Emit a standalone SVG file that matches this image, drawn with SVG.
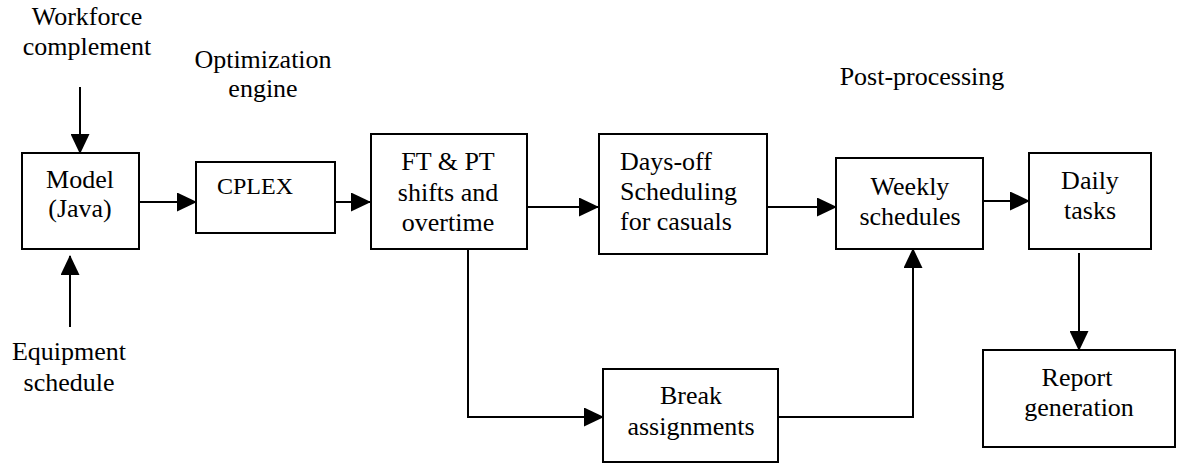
<svg xmlns="http://www.w3.org/2000/svg" width="1177" height="465" viewBox="0 0 1177 465">
  <style>
    .box { fill: #ffffff; stroke: #000000; stroke-width: 2; }
    text { font-family: 'Liberation Serif', 'Times New Roman', Times, serif; font-size: 26px; fill: #000000; text-anchor: middle; }
    .left { text-anchor: start; }
    .small { font-size: 24px; }
    .wire { fill: none; stroke: #000000; stroke-width: 2; }
  </style>
  <defs>
    <marker id="arrow" markerUnits="userSpaceOnUse" markerWidth="20" markerHeight="19" refX="19" refY="9.5" orient="auto">
      <path d="M0,0 L20,9.5 L0,19 Z" fill="#000000"/>
    </marker>
  </defs>
  <rect width="1177" height="465" fill="#ffffff"/>

  <!-- free-standing labels -->
  <g id="labels">
    <text x="87" y="25">Workforce</text>
    <text x="87" y="55">complement</text>
    <text x="263" y="68">Optimization</text>
    <text x="263" y="97">engine</text>
    <text x="922" y="85">Post-processing</text>
    <text x="69" y="360">Equipment</text>
    <text x="69" y="391">schedule</text>
  </g>

  <!-- connectors -->
  <g id="connectors">
    <path class="wire" d="M80,87 V153" marker-end="url(#arrow)"/>
    <path class="wire" d="M70,327 V256" marker-end="url(#arrow)"/>
    <path class="wire" d="M139,202 H196" marker-end="url(#arrow)"/>
    <path class="wire" d="M312,202 H370" marker-end="url(#arrow)"/>
    <path class="wire" d="M527,207 H598" marker-end="url(#arrow)"/>
    <path class="wire" d="M468,249 V417 H603" marker-end="url(#arrow)"/>
    <path class="wire" d="M767,207 H836" marker-end="url(#arrow)"/>
    <path class="wire" d="M778,417 H913 V249" marker-end="url(#arrow)"/>
    <path class="wire" d="M972,201 H1029" marker-end="url(#arrow)"/>
    <path class="wire" d="M1079,253 V350" marker-end="url(#arrow)"/>
  </g>

  <g id="model">
    <rect class="box" x="22" y="153" width="117" height="96"/>
    <text x="80" y="188">Model</text>
    <text x="80" y="217">(Java)</text>
  </g>

  <g id="cplex">
    <rect class="box" x="196" y="162" width="139" height="71"/>
    <text class="small left" x="217" y="194">CPLEX</text>
  </g>

  <g id="shifts">
    <rect class="box" x="371" y="134" width="156" height="115"/>
    <text x="448" y="170">FT &amp; PT</text>
    <text x="448" y="201">shifts and</text>
    <text x="448" y="231">overtime</text>
  </g>

  <g id="daysoff">
    <rect class="box" x="599" y="134" width="168" height="120"/>
    <text class="left" x="620" y="170">Days-off</text>
    <text class="left" x="620" y="200">Scheduling</text>
    <text class="left" x="620" y="230">for casuals</text>
  </g>

  <g id="breaks">
    <rect class="box" x="603" y="369" width="175" height="93"/>
    <text x="691" y="404">Break</text>
    <text x="691" y="435">assignments</text>
  </g>

  <g id="weekly">
    <rect class="box" x="836" y="158" width="147" height="91"/>
    <text x="910" y="195">Weekly</text>
    <text x="910" y="225">schedules</text>
  </g>

  <g id="daily">
    <rect class="box" x="1029" y="153" width="122" height="96"/>
    <text x="1090" y="189">Daily</text>
    <text x="1090" y="219">tasks</text>
  </g>

  <g id="report">
    <rect class="box" x="983" y="350" width="192" height="97"/>
    <text x="1077" y="386">Report</text>
    <text x="1079" y="416">generation</text>
  </g>
</svg>
